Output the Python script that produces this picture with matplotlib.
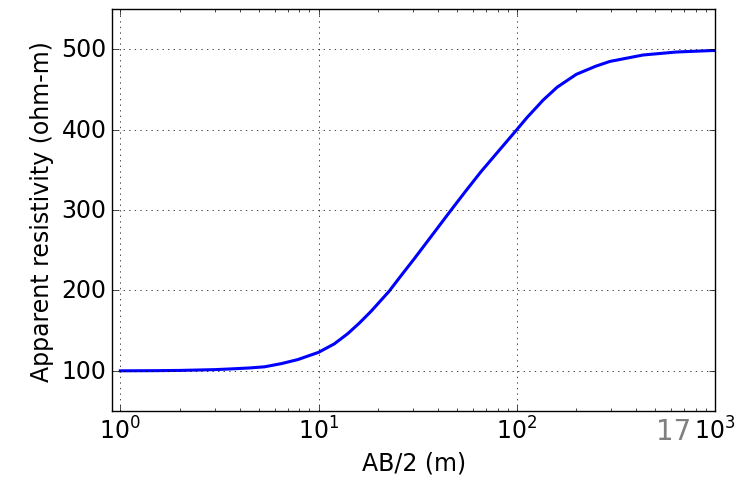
import numpy as np
import matplotlib
matplotlib.use('Agg')
import matplotlib.pyplot as plt

# values
ab2 = [1, 1.5, 2, 3, 3.63, 4.5, 5.34, 6.5, 7.86, 10, 12, 14, 16, 18.4, 22.7, 26, 30.3, 38, 46.3,
       55, 65.6, 80, 100, 112.5, 136, 160, 200, 250, 295, 434, 638, 938, 1000]
rho_a = [100, 100.2, 100.5, 101.5, 102.4, 103.6, 105, 109, 114, 123, 133.5, 146, 159, 174, 199, 218, 239, 271, 299,
         323, 347, 372, 400, 415, 437, 453, 469, 479, 485, 493, 496.7, 498.4, 498.6]

plt.style.use('classic')
plt.rcParams['font.size'] = 17

fig = plt.figure(figsize=(7.53, 4.85), dpi=100, facecolor='white')
ax = fig.add_axes([0.149, 0.1505, 0.8005, 0.8285])

ax.semilogx(ab2, rho_a, 'b-', linewidth=2.2)
ax.set_xlim(0.91, 1000)
ax.set_ylim(50, 550)
ax.set_yticks([100, 200, 300, 400, 500])
ax.grid(True)
ax.set_xlabel('AB/2 (m)', fontsize=17)
ax.set_ylabel('Apparent resistivity (ohm-m)', fontsize=17)
ax.tick_params(labelsize=17)

fig.text(0.895, 0.109, '17', color='gray', fontsize=20, ha='center', va='center')

fig.savefig('out.png', dpi=100, facecolor='white')
